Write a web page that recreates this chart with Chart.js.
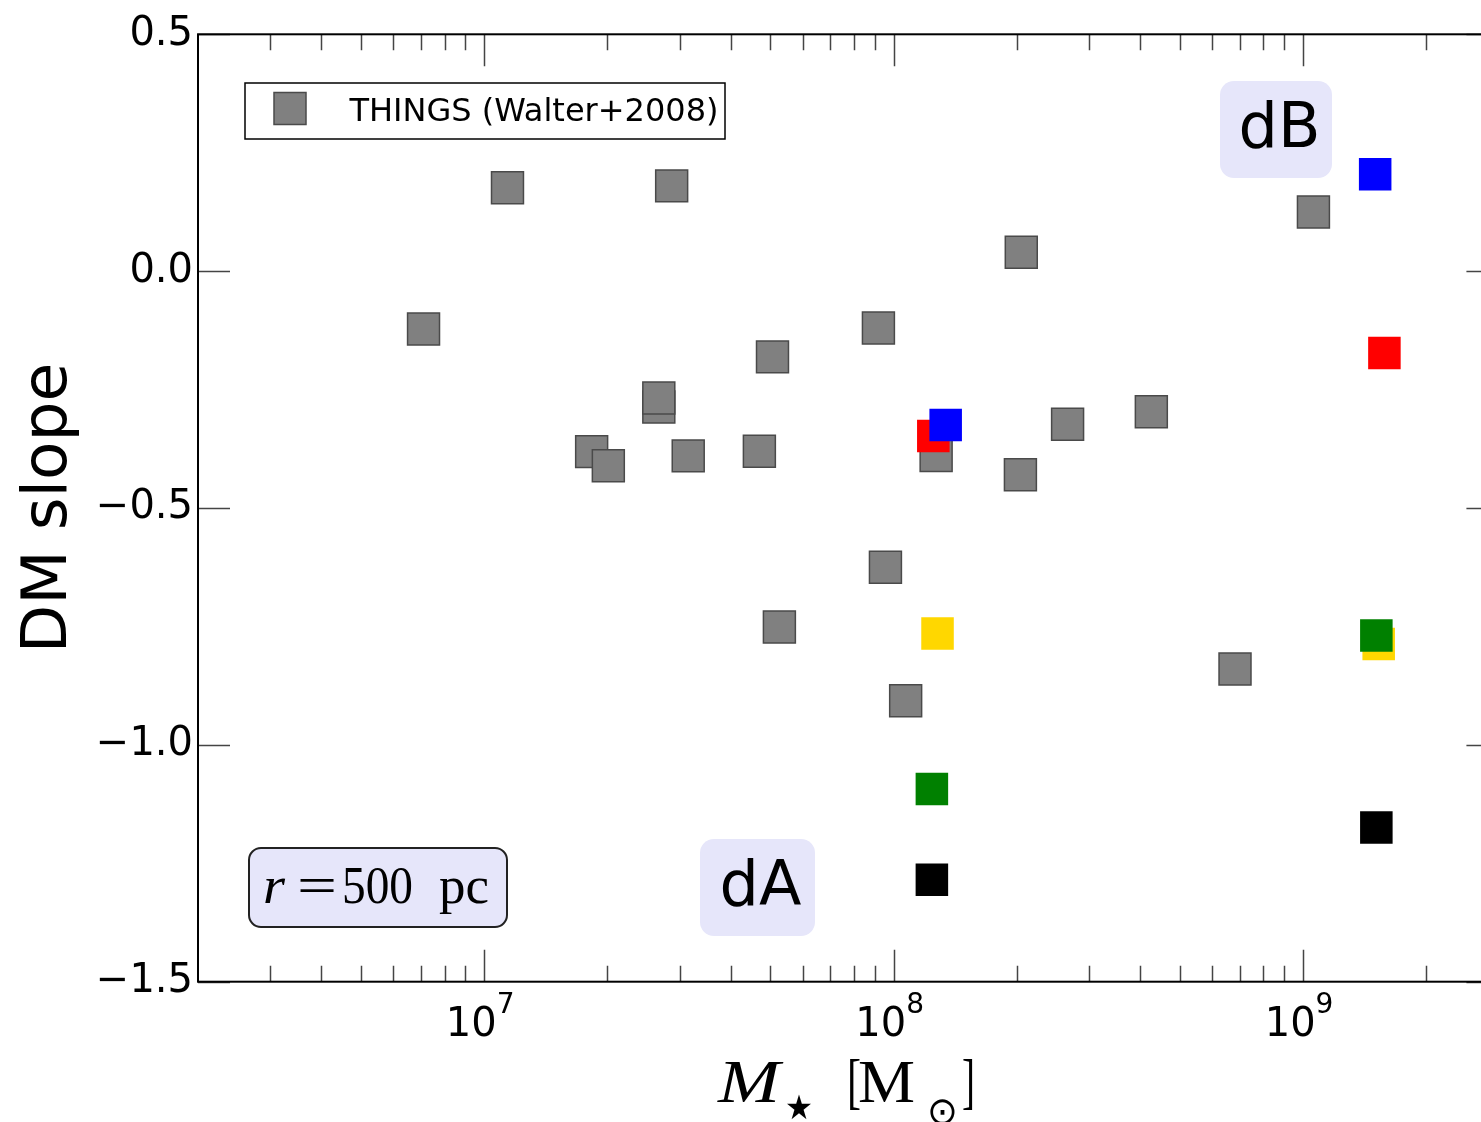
<!DOCTYPE html>
<html>
<head>
<meta charset="utf-8">
<script src="https://cdn.jsdelivr.net/npm/chart.js@4.4.1/dist/chart.umd.min.js"></script>
<style>
html, body { margin: 0; padding: 0; background: #fff; overflow: hidden; }
canvas { display: block; }
</style>
</head>
<body>
<canvas id="pentes" width="1481" height="1122"></canvas>
<script>
// THINGS (Walter+2008)
const thingsMass = [7.11e6, 1.14e7, 2.87e7, 2.05e8, 1.06e9, 9.18e7, 5.06e7, 2.67e7, 2.67e7,
    1.83e7, 2.01e7, 3.15e7, 4.70e7, 1.27e8, 2.66e8, 4.26e8, 2.04e8, 9.55e7, 5.26e7, 1.07e8, 6.82e8];
const thingsSlope = [-0.122, 0.176, 0.180, 0.040, 0.125, -0.120, -0.181, -0.287, -0.268,
    -0.381, -0.411, -0.390, -0.380, -0.389, -0.323, -0.297, -0.430, -0.625, -0.751, -0.907, -0.840];

// simulated galaxies dA and dB
const goldMass = [1.28e8, 1.53e9];
const goldSlope = [-0.765, -0.787];
const redMass = [1.25e8, 1.58e9];
const redSlope = [-0.348, -0.173];
const greenMass = [1.24e8, 1.51e9];
const greenSlope = [-1.093, -0.769];
const blueMass = [1.34e8, 1.50e9];
const blueSlope = [-0.325, 0.2045];
const blackMass = [1.24e8, 1.51e9];
const blackSlope = [-1.285, -1.1745];

const xTickValues = [1e7, 1e8, 1e9];
const yTickValues = [-1.5, -1.0, -0.5, 0.0, 0.5];

// figure is cut on the right: axis goes to 3e9, picture stops before
const xMin = 2e6;
const xVisibleMax = 2.72e9;
const xFrameMax = 3e9;

const lavande = '#e6e6fa';

function points(xs, ys) {
    return xs.map((x, i) => ({ x: x, y: ys[i] }));
}

function serie(label, xs, ys, couleur, ordre) {
    return {
        label: label,
        data: points(xs, ys),
        backgroundColor: couleur,
        borderColor: couleur,
        borderWidth: 0,
        pointStyle: 'rect',
        pointRadius: 23,
        pointHoverRadius: 23,
        order: ordre
    };
}

function boiteArrondie(ctx, x, y, w, h, r) {
    ctx.beginPath();
    ctx.moveTo(x + r, y);
    ctx.arcTo(x + w, y, x + w, y + h, r);
    ctx.arcTo(x + w, y + h, x, y + h, r);
    ctx.arcTo(x, y + h, x, y, r);
    ctx.arcTo(x, y, x + w, y, r);
    ctx.closePath();
}

// text stretched horizontally to a given width (math pieces)
function texte(ctx, txt, x, y, police, largeur) {
    ctx.save();
    ctx.font = police;
    ctx.textAlign = 'left';
    ctx.textBaseline = 'alphabetic';
    const w = ctx.measureText(txt).width;
    ctx.translate(x, y);
    if (largeur) ctx.scale(largeur / w, 1);
    ctx.fillText(txt, 0, 0);
    ctx.restore();
}

const decor = {
    id: 'decor',
    beforeDatasetsDraw(chart) {
        const ctx = chart.ctx;
        ctx.save();
        // dB / dA labels
        ctx.fillStyle = lavande;
        boiteArrondie(ctx, 1220, 81, 112, 97, 14);
        ctx.fill();
        boiteArrondie(ctx, 700, 839, 115, 97, 14);
        ctx.fill();
        ctx.fillStyle = '#000';
        ctx.font = '62px "DejaVu Sans"';
        ctx.textAlign = 'center';
        ctx.textBaseline = 'alphabetic';
        ctx.fillText('dB', 1279.5, 147);
        ctx.fillText('dA', 760.5, 905);

        // r = 500 pc
        ctx.fillStyle = lavande;
        ctx.strokeStyle = '#222';
        ctx.lineWidth = 2;
        boiteArrondie(ctx, 249, 848, 258, 79, 12);
        ctx.fill();
        ctx.stroke();
        ctx.fillStyle = '#000';
        texte(ctx, 'r', 263, 903, 'italic 52px "Liberation Serif"', 22);
        texte(ctx, '=', 297, 903, '52px "Liberation Serif"', 40);
        texte(ctx, '500', 342, 903, '52px "Liberation Serif"', 71);
        texte(ctx, 'pc', 439, 903, '52px "Liberation Serif"', 50);
        ctx.restore();
    },
    afterDraw(chart) {
        const ctx = chart.ctx;
        const { left, top, bottom } = chart.chartArea;
        const sx = chart.scales.x;
        const sy = chart.scales.y;
        const right = sx.getPixelForValue(xFrameMax);
        ctx.save();

        // inward ticks
        ctx.strokeStyle = '#444';
        ctx.lineWidth = 1.5;
        ctx.beginPath();
        for (let e = 6; e <= 9; e++) {
            for (let k = 1; k <= 9; k++) {
                const v = k * Math.pow(10, e);
                if (v <= xMin || v >= xFrameMax) continue;
                const px = Math.round(sx.getPixelForValue(v)) + 0.5;
                const lg = k === 1 ? 32 : 16;
                ctx.moveTo(px, bottom); ctx.lineTo(px, bottom - lg);
                ctx.moveTo(px, top); ctx.lineTo(px, top + lg);
            }
        }
        yTickValues.forEach(v => {
            const py = Math.round(sy.getPixelForValue(v)) + 0.5;
            ctx.moveTo(left, py); ctx.lineTo(left + 32, py);
            ctx.moveTo(right, py); ctx.lineTo(right - 32, py);
        });
        ctx.stroke();

        // frame
        ctx.strokeStyle = '#000';
        ctx.lineWidth = 2;
        ctx.strokeRect(left, top, right - left, bottom - top);

        // x tick labels 10^n
        ctx.fillStyle = '#000';
        xTickValues.forEach(v => {
            const px = sx.getPixelForValue(v);
            const exp = String(Math.round(Math.log10(v)));
            ctx.font = '40px "DejaVu Sans"';
            const wBase = ctx.measureText('10').width;
            ctx.font = '28px "DejaVu Sans"';
            const wExp = ctx.measureText(exp).width;
            const x0 = px - (wBase + wExp) / 2 - 4;
            texte(ctx, '10', x0, 1036, '40px "DejaVu Sans"');
            texte(ctx, exp, x0 + wBase, 1013, '28px "DejaVu Sans"');
        });

        // x axis title  M_star [M_sun]
        texte(ctx, 'M', 718, 1102, 'italic 62px "Liberation Serif"', 62);
        texte(ctx, '\u2605', 785, 1119, '34px "DejaVu Sans"', 28);
        texte(ctx, '[', 847, 1102, '62px "Liberation Serif"', 14);
        texte(ctx, 'M', 858, 1102, '62px "Liberation Serif"', 57);
        texte(ctx, '\u2299', 927, 1124, '38px "DejaVu Sans"', 31);
        texte(ctx, ']', 962, 1102, '62px "Liberation Serif"', 13);

        // legend
        ctx.fillStyle = '#fff';
        ctx.fillRect(245, 83, 480, 56);
        ctx.strokeStyle = '#000';
        ctx.lineWidth = 1.5;
        ctx.strokeRect(245, 83, 480, 56);
        ctx.fillStyle = '#808080';
        ctx.fillRect(274, 92.5, 32, 32);
        ctx.strokeStyle = '#4a4a4a';
        ctx.strokeRect(274, 92.5, 32, 32);
        ctx.fillStyle = '#000';
        texte(ctx, 'THINGS (Walter+2008)', 349.5, 121, '32px "DejaVu Sans"');
        ctx.restore();
    }
};

const things = serie('THINGS (Walter+2008)', thingsMass, thingsSlope, '#808080', 6);
things.borderColor = '#4a4a4a';
things.borderWidth = 1.5;
things.pointRadius = 22.6;
things.pointHoverRadius = 22.6;

new Chart(document.getElementById('pentes'), {
    type: 'scatter',
    data: {
        datasets: [
            things,
            serie('gold', goldMass, goldSlope, '#ffd700', 5),
            serie('red', redMass, redSlope, '#ff0000', 4),
            serie('green', greenMass, greenSlope, '#008000', 3),
            serie('blue', blueMass, blueSlope, '#0000ff', 2),
            serie('black', blackMass, blackSlope, '#000000', 1)
        ]
    },
    options: {
        responsive: false,
        animation: false,
        devicePixelRatio: 1,
        layout: {
            autoPadding: false,
            padding: { top: 34.3, right: 0, left: 0, bottom: 0 }
        },
        plugins: {
            legend: { display: false },
            tooltip: { enabled: false }
        },
        scales: {
            x: {
                type: 'logarithmic',
                min: xMin,
                max: xVisibleMax,
                grid: { display: false, drawTicks: false },
                border: { display: false },
                ticks: { display: false },
                afterFit(scale) { scale.height = 140.3; }
            },
            y: {
                min: -1.5,
                max: 0.5,
                grid: { display: false, drawTicks: false },
                border: { display: false },
                ticks: {
                    stepSize: 0.5,
                    padding: 5,
                    color: '#000',
                    font: { family: 'DejaVu Sans', size: 40 },
                    callback: v => (v < 0 ? '\u2212' : '') + Math.abs(v).toFixed(1)
                },
                title: {
                    display: true,
                    text: 'DM slope',
                    color: '#000',
                    font: { family: 'DejaVu Sans', size: 63, lineHeight: 1 },
                    padding: { top: 18, bottom: 0 }
                },
                afterFit(scale) { scale.width = 198; }
            }
        }
    },
    plugins: [decor]
});
</script>
</body>
</html>
